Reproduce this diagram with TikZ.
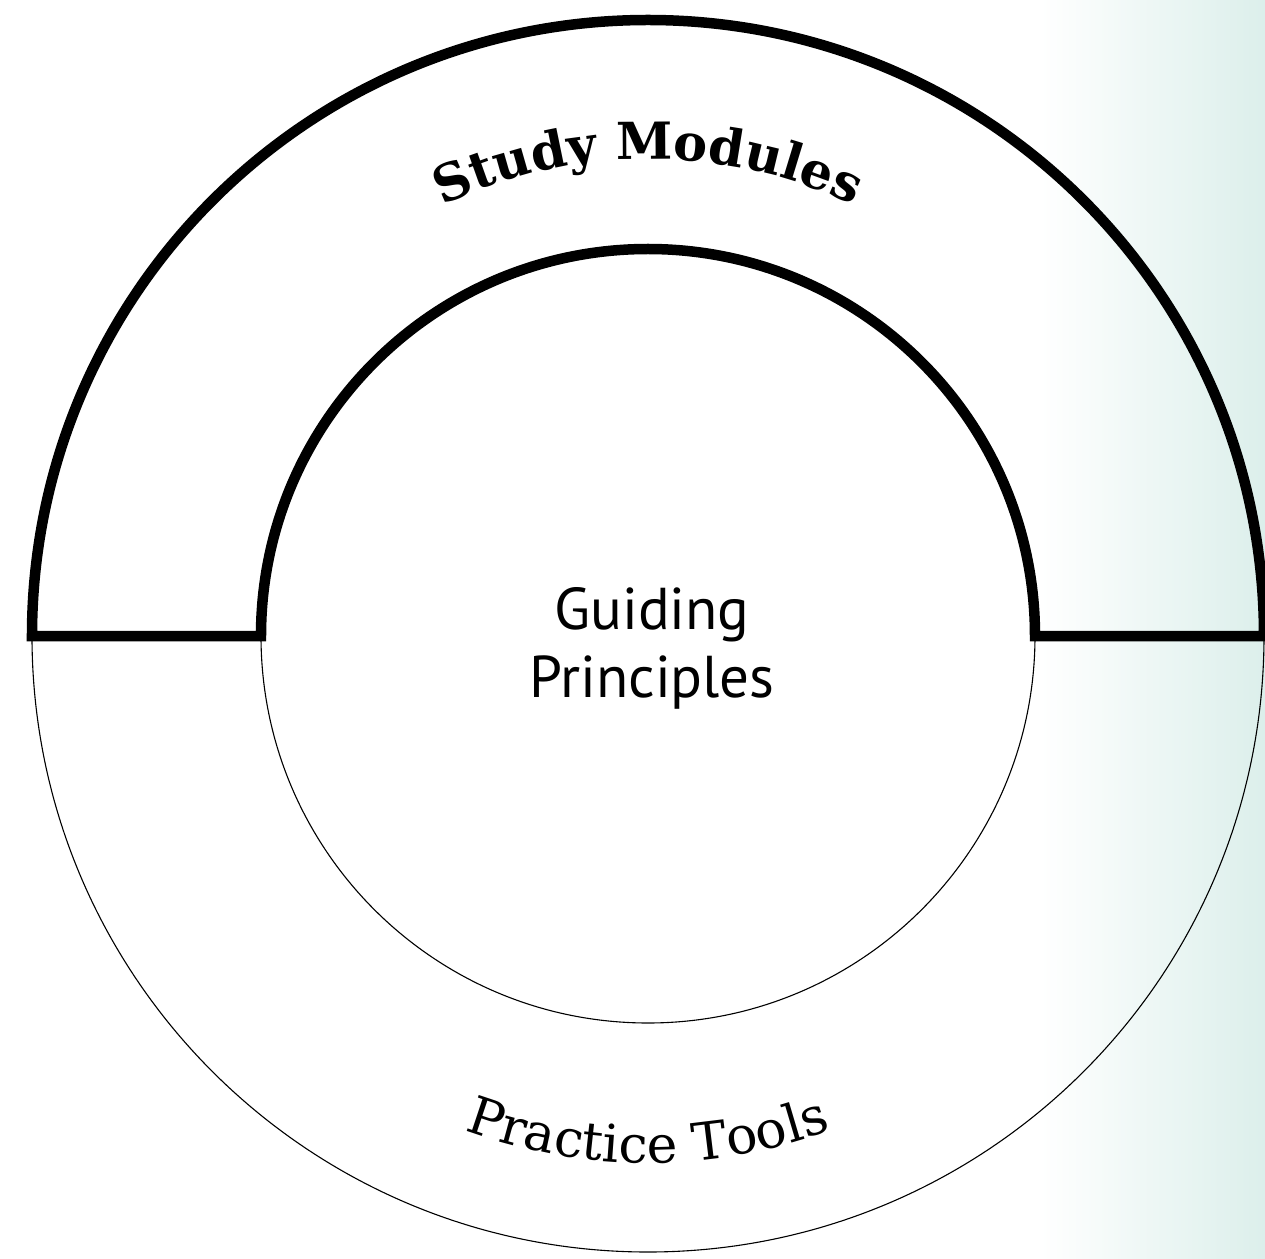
\documentclass[tikz,border=0pt]{standalone}
\usepackage{fontspec}
\setmainfont{DejaVu Serif}
\newfontfamily\guidefont{PT Sans}
\usetikzlibrary{decorations.text}
\definecolor{mint}{RGB}{220,239,235}
\tikzset{
  thickring/.style={line width=10.5pt,line join=miter},
  thinring/.style={line width=1.1pt}
}
\begin{document}
\begin{tikzpicture}[x=1pt,y=1pt]
  \useasboundingbox (-648,-622) rectangle (617,636);
  % background
  \fill[white] (-648,-622) rectangle (617,636);
  \shade[left color=white,right color=mint] (392,-622) rectangle (617,636);
  \coordinate (c) at (0,0);
  % upper half, bold outline
  \draw[thickring] (c) ++(-616,0) arc[start angle=180,end angle=0,radius=616]
      -- ++(-229,0) arc[start angle=0,end angle=180,radius=387] -- cycle;
  % lower half, thin
  \draw[thinring] (c) ++(-616,0) arc[start angle=180,end angle=360,radius=616];
  \draw[thinring] (c) ++(-387,0) arc[start angle=180,end angle=360,radius=387];
  % labels
  \node[font=\guidefont\fontsize{59}{68}\selectfont,align=center] (guide) at (4,-12) {Guiding\\Principles};
  \path[decorate,decoration={text along path,text align=center,
      text={|\bfseries\fontsize{51}{51}\selectfont|Study Modules}}]
      (c) ++(128:477) arc[start angle=128,end angle=52,radius=477];
  \path[decorate,decoration={text along path,text align=center,
      text={|\fontsize{52}{52}\selectfont|Practice Tools}}]
      (c) ++(236:527) arc[start angle=236,end angle=304,radius=527];
\end{tikzpicture}
\end{document}
